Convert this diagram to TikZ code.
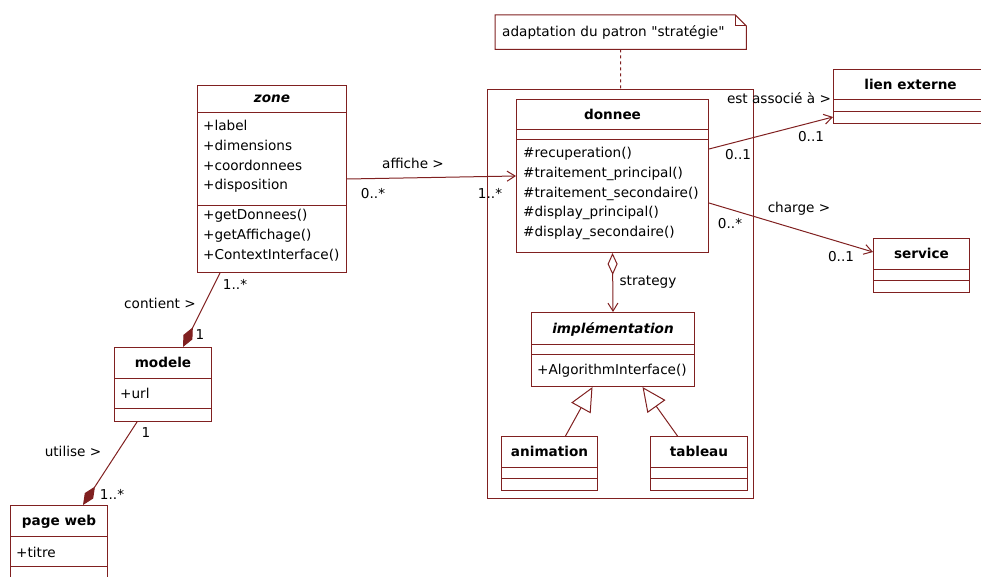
\documentclass[tikz,border=0pt]{standalone}
\usepackage{fontspec}
\setmainfont{DejaVu Sans}
\newfontfamily\notizschrift{DejaVu Sans}
\usetikzlibrary{arrows.meta}
\definecolor{umlrot}{RGB}{128,32,32}

\begin{document}
\begin{tikzpicture}[x=1pt, y=-1pt, font=\fontsize{13.6}{19.6}\selectfont,
	box/.style={draw=umlrot, line width=1pt, anchor=north west, inner sep=0pt},
	titel/.style={font=\fontsize{13.6}{19.6}\selectfont\bfseries, anchor=base, inner sep=0pt},
	glied/.style={align=left, anchor=north west, inner sep=0pt, execute at begin node=\strut},
	linie/.style={umlrot, line width=1pt},
	mult/.style={anchor=mid, inner sep=0pt},
	pfeil/.style={-{Straight Barb[length=8pt, width=10pt]}},
	raute/.style={{Diamond[length=22pt, width=10pt]}-}]
	\useasboundingbox (0,0) rectangle (981,577);

	% Paket und Notiz
	\node[box, minimum width=266, minimum height=409] (pkg) at (487,89) {};
	\node[anchor=north west, inner xsep=7pt, inner ysep=0pt, minimum height=34, text width=237, align=left,
		font=\notizschrift\fontsize{13.6}{19.6}\selectfont] (notiz) at (495,15)
		{adaptation du patron "stratégie"};
	\draw[linie] (notiz.south west) -- (notiz.north west) -- ([xshift=-11]notiz.north east)
		-- ([yshift=-11]notiz.north east) -- (notiz.south east) -- cycle;
	\draw[linie] ([xshift=-11]notiz.north east) -- ([shift={(-11,11)}]notiz.north east) -- ([yshift=-11]notiz.north east);
	\draw[linie, dash pattern=on 3pt off 3pt] (notiz.south) -- (pkg.north);

	% Klassen
	\node[box, minimum width=149, minimum height=187] (zone) at (197,85) {};
	\node[box, minimum width=192, minimum height=153] (donnee) at (516,99) {};
	\node[box, minimum width=154, minimum height=54] (lien) at (833,69) {};
	\node[box, minimum width=96, minimum height=54] (service) at (873,238) {};
	\node[box, minimum width=97, minimum height=74] (modele) at (114,347) {};
	\node[box, minimum width=97, minimum height=74] (page) at (10,505) {};
	\node[box, minimum width=163, minimum height=74] (impl) at (531,312) {};
	\node[box, minimum width=96, minimum height=54] (anim) at (501,436) {};
	\node[box, minimum width=97, minimum height=54] (tab) at (650,436) {};
	\foreach \k/\a/\b/\t in {zone/28/121/\textit{zone}, donnee/31/41/donnee, lien/31/43/lien externe,
		service/31/42/service, modele/31/61/modele, page/31/61/page web,
		impl/32/42/\textit{implémentation}, anim/31/42/animation, tab/31/42/tableau} {
		\node[titel] (\k-t) at ([yshift=10.5-\a]\k.north) {\t};
		\draw[linie] ([yshift=-\a]\k.north west) -- ([yshift=-\a]\k.north east);
		\draw[linie] ([yshift=-\b]\k.north west) -- ([yshift=-\b]\k.north east);
	}
	\node[glied] (zone-a) at ([shift={(6,35.4)}]zone.north west) {+label\\+dimensions\\+coordonnees\\+disposition};
	\node[glied] (zone-o) at ([shift={(6,124.4)}]zone.north west) {+getDonnees()\\+getAffichage()\\+ContextInterface()};
	\node[glied] (donnee-o) at ([shift={(7,48.4)}]donnee.north west)
		{\#recuperation()\\\#traitement\_principal()\\\#traitement\_secondaire()\\\#display\_principal()\\\#display\_secondaire()};
	\node[glied] (modele-a) at ([shift={(6,37.4)}]modele.north west) {+url};
	\node[glied] (page-a) at ([shift={(6,38.4)}]page.north west) {+titre};
	\node[glied] (impl-o) at ([shift={(6,48.4)}]impl.north west) {+AlgorithmInterface()};

	% Verbindungen
	\draw[linie, pfeil] (zone.east) -- (donnee.west);
	\draw[linie, raute] ([xshift=69]modele.north west) -- ([xshift=23]zone.south west);
	\draw[linie, raute] ([xshift=73]page.north west) -- ([xshift=23]modele.south west);
	\draw[linie, {Diamond[open, length=22pt, width=10pt]}-{Straight Barb[length=8pt, width=10pt]}] (donnee.south) -- (impl.north);
	\draw[linie, -{Triangle[open, length=24pt, width=22pt]}] ([xshift=16]anim.north) -- ([xshift=-20.5]impl.south);
	\draw[linie, -{Triangle[open, length=24pt, width=22pt]}] ([xshift=-21.5]tab.north) -- ([xshift=29.5]impl.south);
	\draw[linie, pfeil] ([yshift=-50]donnee.north east) -- ([yshift=-48]lien.north west);
	\draw[linie, pfeil] ([yshift=-104]donnee.north east) -- ([yshift=-14]service.north west);

	% Beschriftungen
	\node[mult] (affiche) at (413,166) {affiche >};
	\node[mult] (affiche-m1) at (373,196) {0..*};
	\node[mult] (affiche-m2) at (490,196) {1..*};
	\node[mult] (assoc) at (779,101) {est associé à >};
	\node[mult] (assoc-m1) at (738,157) {0..1};
	\node[mult] (assoc-m2) at (811,139) {0..1};
	\node[mult] (charge) at (799,210) {charge >};
	\node[mult] (charge-m1) at (730,226) {0..*};
	\node[mult] (charge-m2) at (841,259) {0..1};
	\node[mult] (contient) at (160,306) {contient >};
	\node[mult] (contient-m1) at (235,287) {1..*};
	\node[mult] (contient-m2) at (200,337) {1};
	\node[mult] (utilise) at (73,454) {utilise >};
	\node[mult] (utilise-m1) at (146,435) {1};
	\node[mult] (utilise-m2) at (112,497) {1..*};
	\node[mult] (strategy) at (648,283) {strategy};
\end{tikzpicture}
\end{document}
